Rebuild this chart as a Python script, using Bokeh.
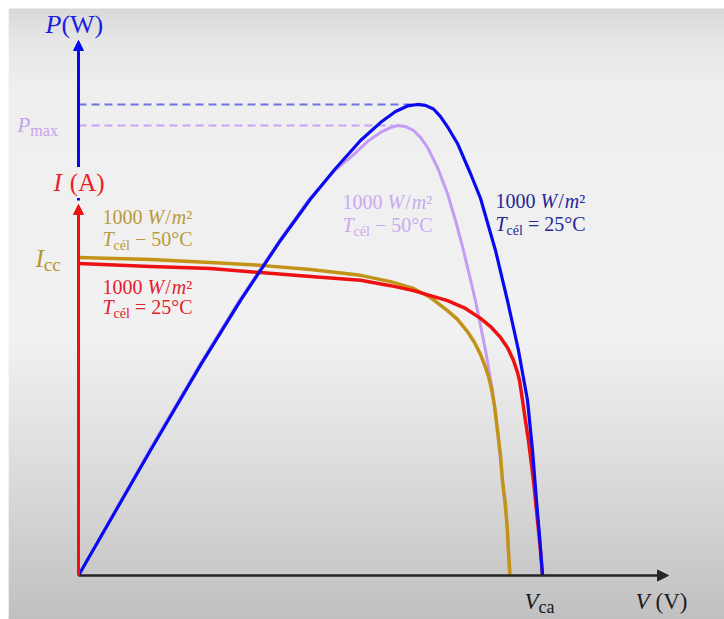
import numpy as np
from bokeh.plotting import figure
from bokeh.models import Range1d, Label, Arrow, NormalHead
from bokeh.embed import file_html
from bokeh.resources import INLINE

# ---------------------------------------------------------------------------
# Photovoltaic module characteristics at 1000 W/m^2
# I-V curves (volts, amperes)
v_iv_25 = [0.0, 6.21, 11.38, 15.69, 20.0, 24.31, 26.90, 28.88, 30.34, 31.81,
           33.36, 34.66, 35.52, 36.38, 36.98, 37.50, 37.84, 38.02, 38.28, 38.53,
           38.79, 39.22, 39.57, 39.83, 40.0]
i_iv_25 = [10.0, 9.90, 9.84, 9.71, 9.58, 9.46, 9.29, 9.13, 8.97, 8.81,
           8.56, 8.24, 7.98, 7.63, 7.31, 6.89, 6.51, 6.25, 5.61, 4.97,
           4.33, 3.04, 1.76, 0.80, 0.0]

v_iv_50 = [0.0, 6.21, 11.38, 15.69, 20.0, 24.31, 26.90, 28.88, 30.34, 31.81,
           32.67, 33.53, 34.14, 34.66, 35.09, 35.34, 35.60, 35.86, 36.12, 36.38,
           36.55, 36.81, 36.98, 37.07, 37.2]
i_iv_50 = [10.19, 10.13, 10.03, 9.94, 9.81, 9.62, 9.42, 9.20, 8.91, 8.49,
           8.21, 7.82, 7.47, 7.08, 6.67, 6.38, 5.99, 5.45, 4.65, 3.85,
           3.04, 2.24, 1.44, 0.74, 0.0]

# P-V curves (volts, watts)
v_pv_25 = [0.0, 6.21, 10.52, 13.97, 17.41, 20.0, 22.16, 24.31, 26.03, 27.33,
           28.36, 29.22, 29.91, 30.60, 31.21, 31.90, 32.67, 33.79, 34.66, 35.95,
           36.98, 37.93, 38.71, 39.14, 39.48, 39.74, 40.0]
p_pv_25 = [0.0, 85.1, 142.9, 186.9, 227.6, 255.8, 276.5, 295.5, 307.7, 315.2,
           319.0, 320.0, 319.4, 316.9, 311.8, 303.7, 293.5, 273.1, 256.1, 220.8,
           186.8, 152.9, 118.9, 84.9, 51.0, 27.2, 0.0]

v_pv_50 = [0.0, 6.12, 10.43, 13.88, 17.33, 19.91, 22.07, 23.62, 24.91, 26.03,
           26.90, 27.50, 28.19, 28.88, 29.48, 30.09, 30.95, 31.81, 32.50, 33.19,
           34.22, 35.09, 35.69, 36.12, 36.55, 36.90, 37.07, 37.2]
p_pv_50 = [0.0, 85.1, 142.9, 186.9, 227.6, 255.8, 275.1, 285.3, 294.8, 301.0,
           304.3, 305.7, 305.0, 302.3, 297.6, 290.8, 277.2, 259.5, 241.2, 220.8,
           186.8, 152.9, 125.7, 98.5, 64.5, 37.4, 17.0, 0.0]

# ---------------------------------------------------------------------------
# Canvas layout
CANVAS_W, CANVAS_H = 724, 619
PAD = 8                      # white margin at top and left
X0_PX, Y0_PX = 78, 575       # where the axes meet
PX_PER_V = 11.6
PX_PER_A = 31.2
PX_PER_W = 1.472


def vx(px):
    return (px - X0_PX) / PX_PER_V


def ia(py):
    return (Y0_PX - np.asarray(py, dtype=float)) / PX_PER_A


def pw(py):
    return (Y0_PX - py) / PX_PER_W


BLUE = "#0a0af2"
PURPLE = "#c49cf4"
RED = "#ee1111"
GOLD = "#c29317"
BLACK = "#262626"
FONT = "Liberation Serif"

x_range = Range1d(vx(PAD), vx(CANVAS_W))
y_range = Range1d(float(ia(CANVAS_H)), float(ia(PAD)))

p = figure(width=CANVAS_W, height=CANVAS_H, x_range=x_range, y_range=y_range,
           output_backend="svg", toolbar_location=None,
           x_axis_location=None, y_axis_location=None,
           min_border_left=PAD, min_border_top=PAD,
           min_border_right=0, min_border_bottom=0,
           border_fill_color="white", outline_line_color=None)
p.grid.grid_line_color = None
p.extra_y_ranges = {"power": Range1d(pw(CANVAS_H), pw(PAD))}

# Soft vertical gradient of the backdrop
BG_STOP_PX = [8, 40, 90, 340, 380, 470, 540, 619]
BG_STOP_GRAY = [216, 230, 239, 241, 234, 220, 207, 192]
rows = np.arange(PAD, CANVAS_H, 2)
grays = np.interp(rows + 1, BG_STOP_PX, BG_STOP_GRAY).round().astype(int)
p.quad(left=x_range.start, right=x_range.end,
       top=ia(rows - 0.6), bottom=ia(rows + 2.6),
       fill_color=["#%02x%02x%02x" % (g, g, g) for g in grays], line_color=None)

# Maximum power guides
k25 = int(np.argmax(p_pv_25))
k50 = int(np.argmax(p_pv_50))
p.line([0, v_pv_25[k25] - 0.4], [p_pv_25[k25]] * 2, y_range_name="power",
       line_color="#6f6fe6", line_width=2, line_dash="8 5")
p.line([0, v_pv_50[k50] - 0.4], [p_pv_50[k50]] * 2, y_range_name="power",
       line_color="#c9a2f2", line_width=2, line_dash="8 5")

# Axes drawn as arrows
p.add_layout(Arrow(x_start=0, y_start=0, x_end=vx(668), y_end=0,
                   line_color=BLACK, line_width=2.5,
                   end=NormalHead(size=11, fill_color=BLACK, line_color=BLACK)))
p.add_layout(Arrow(x_start=0, y_start=0, x_end=0, y_end=float(ia(204)),
                   line_color=RED, line_width=3,
                   end=NormalHead(size=10, fill_color=RED, line_color=RED)))
p.add_layout(Arrow(x_start=0, y_start=pw(200), x_end=0, y_end=pw(40),
                   y_range_name="power", line_color=BLUE, line_width=3,
                   end=NormalHead(size=10, fill_color=BLUE, line_color=BLUE)))

# Characteristic curves
p.line(v_pv_50, p_pv_50, y_range_name="power", line_color=PURPLE,
       line_width=3, line_join="round")
p.line(v_iv_50, i_iv_50, line_color=GOLD, line_width=3.5, line_join="round")
p.line(v_iv_25, i_iv_25, line_color=RED, line_width=3.5, line_join="round")
p.line(v_pv_25, p_pv_25, y_range_name="power", line_color=BLUE,
       line_width=3.2, line_join="round")

# ---------------------------------------------------------------------------
# Mixed-style labels built from runs (Times-metric advance widths, 1/1000 em)
ADV_REG = {'0': 500, '1': 500, '2': 500, '5': 500, '(': 333, ')': 333,
           'A': 722, 'C': 667, 'V': 722, 'W': 944, 'a': 444, 'c': 444,
           'l': 278, 'm': 778, 'x': 500, 'é': 444, '/': 278, '=': 564,
           '−': 564, '°': 400, '²': 300, ' ': 250}
ADV_IT = {'P': 611, 'I': 333, 'T': 556, 'V': 611, 'W': 833, 'm': 722}
BASELINE_LIFT = 0.32   # keeps every run on a common alphabetic baseline


def advance(text, size, italic):
    table = ADV_IT if italic else ADV_REG
    return sum(table.get(ch, ADV_REG.get(ch, 500)) for ch in text) / 1000 * size


def rich_label(x, y, runs, color, y_range_name="default", base_dy=0, bg=None):
    dx = 0.0
    for text, italic, size, dy, gap in runs:
        dx += gap
        kw = {}
        if bg is not None and text == "(A)":
            kw = dict(background_fill_color=bg, padding=2)
        p.add_layout(Label(x=x, y=y, x_offset=dx,
                           y_offset=base_dy + dy + BASELINE_LIFT * size,
                           y_range_name=y_range_name, text=text,
                           text_font=FONT, text_font_size=f"{size}px",
                           text_font_style="italic" if italic else "normal",
                           text_color=color, text_align="left",
                           text_baseline="alphabetic", **kw))
        dx += advance(text, size, italic)


def irradiance_runs(size=20):
    return [("1000", False, size, 0, 0), ("W", True, size, 0, 5),
            ("/", False, size, 0, 1), ("m", True, size, 0, 1),
            ("²", False, size, 0, 0)]


def temperature_runs(sign, temp, size=20):
    return [("T", True, size, 0, 0), ("cél", False, 14, -4, 0),
            (f"{sign} {temp}°C", False, size, 0, 5)]


# Axis titles
rich_label(vx(45), float(ia(32)), [("P", True, 26, 0, 0), ("(W)", False, 26, 0, 0)],
           "#1c1ce0")
rich_label(vx(53), float(ia(190)), [("I", True, 25, 0, 0), ("(A)", False, 25, 0, 6)],
           "#ee1c25", bg="#efefef")
rich_label(vx(635), float(ia(608)), [("V", True, 23, 0, 0), ("(V)", False, 23, 0, 6)],
           "#1a1a1a")

# Characteristic points on the axes
rich_label(vx(17), p_pv_50[k50], [("P", True, 21, 0, 0), ("max", False, 16, -4, 0)],
           "#c6a2ea", y_range_name="power", base_dy=-6)
rich_label(vx(35), float(ia(266)), [("I", True, 25, 0, 0), ("cc", False, 19, -4, 0)],
           "#b8952e")
rich_label(vx(524), float(ia(608)), [("V", True, 23, 0, 0), ("ca", False, 18, -4, 0)],
           "#1a1a1a")

# Curve annotations
blocks = [
    (102, 223, 245, "−", 50, "#b99a3c"),
    (102, 293, 313, "=", 25, "#e4202c"),
    (342, 208, 231, "−", 50, "#c8aaf0"),
    (495, 207, 230, "=", 25, "#262699"),
]
for x_px, base1, base2, sign, temp, col in blocks:
    rich_label(vx(x_px), float(ia(base1)), irradiance_runs(), col)
    rich_label(vx(x_px), float(ia(base2)), temperature_runs(sign, temp), col)

open("out.html", "w").write(file_html(p, INLINE))
